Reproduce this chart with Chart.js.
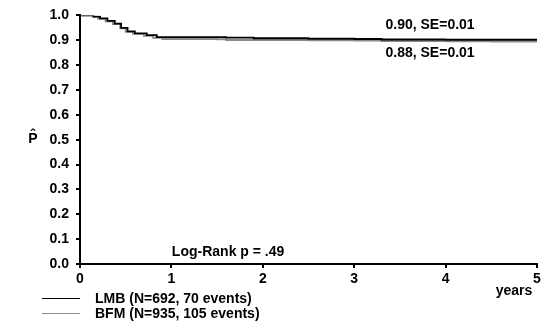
<!DOCTYPE html>
<html>
<head>
<meta charset="utf-8">
<script src="https://cdn.jsdelivr.net/npm/chart.js@4"></script>
<style>
  html, body { margin: 0; padding: 0; background: #fff; }
  #wrap { width: 546px; height: 331px; }
</style>
</head>
<body>
<div id="wrap"><canvas id="km"></canvas></div>
<script>
// Kaplan-Meier curves
var lmbYears = [0, 0.1, 0.15, 0.22, 0.3, 0.38, 0.45, 0.52, 0.6, 0.73, 0.84, 1.6, 1.9, 2.5, 3.0, 3.3, 4.0, 5.0];
var lmbSurv  = [1, 1, 0.995, 0.988, 0.978, 0.967, 0.95, 0.936, 0.928, 0.921, 0.913, 0.911, 0.908, 0.906, 0.905, 0.903, 0.902, 0.902];
var bfmYears = [0, 0.08, 0.14, 0.2, 0.28, 0.36, 0.44, 0.5, 0.58, 0.7, 0.8, 0.9, 1.5, 1.6, 2.5, 3.0, 3.3, 4.0, 4.5, 5.0];
var bfmSurv  = [1, 1, 0.994, 0.986, 0.976, 0.965, 0.948, 0.934, 0.926, 0.918, 0.91, 0.905, 0.904, 0.901, 0.9, 0.899, 0.897, 0.896, 0.895, 0.895];

var xTicks = [0, 1, 2, 3, 4, 5];
var yTicks = [0, 0.1, 0.2, 0.3, 0.4, 0.5, 0.6, 0.7, 0.8, 0.9, 1.0];
var legendLabels = ['LMB (N=692, 70 events)', 'BFM (N=935, 105 events)'];
var lineColors = ['#000000', '#8a8a8a'];

function toPoints(xs, ys) {
  return xs.map(function(x, i) { return { x: x, y: ys[i] }; });
}

var FONT = '"Liberation Sans", Arial, sans-serif';

// Extra text: estimates, log-rank, axis labels and the legend under the axis
var textPlugin = {
  id: 'kmText',
  afterDraw: function(chart) {
    var ctx = chart.ctx;
    var xs = chart.scales.x;
    ctx.save();
    ctx.fillStyle = '#000';
    ctx.font = 'bold 14px ' + FONT;
    ctx.textAlign = 'center';
    ctx.textBaseline = 'middle';
    ctx.fillText('0.90, SE=0.01', xs.getPixelForValue(3.83), 25);
    ctx.fillText('0.88, SE=0.01', xs.getPixelForValue(3.83), 53);
    ctx.fillText('Log-Rank p = .49', xs.getPixelForValue(1.62), 252);
    ctx.fillText('years', 514, 291);
    ctx.fillText('P\u0302', 33, 139);

    // legend
    ctx.textAlign = 'left';
    legendLabels.forEach(function(lbl, i) {
      var y = 298 + i * 15;
      ctx.strokeStyle = lineColors[i];
      ctx.lineWidth = 1;
      ctx.beginPath();
      ctx.moveTo(42, y + 0.5);
      ctx.lineTo(80, y + 0.5);
      ctx.stroke();
      ctx.fillText(lbl, 95, y + 1);
    });
    ctx.restore();
  }
};

new Chart(document.getElementById('km').getContext('2d'), {
  type: 'line',
  data: {
    datasets: [
      {
        label: legendLabels[0],
        data: toPoints(lmbYears, lmbSurv),
        borderColor: lineColors[0],
        borderWidth: 1.8,
        pointRadius: 0,
        stepped: true,
        fill: false
      },
      {
        label: legendLabels[1],
        data: toPoints(bfmYears, bfmSurv),
        borderColor: lineColors[1],
        borderWidth: 1.8,
        pointRadius: 0,
        stepped: true,
        fill: false
      }
    ]
  },
  options: {
    responsive: true,
    maintainAspectRatio: false,
    animation: false,
    layout: { padding: { top: 10, right: 9, bottom: 42, left: 0 } },
    plugins: {
      legend: { display: false },
      tooltip: { enabled: false }
    },
    scales: {
      x: {
        type: 'linear',
        min: 0,
        max: 5,
        afterBuildTicks: function(axis) {
          axis.ticks = xTicks.map(function(v) { return { value: v }; });
        },
        afterFit: function(axis) { axis.height = 25; },
        grid: { drawOnChartArea: false, drawTicks: true, tickLength: 4, color: '#000', lineWidth: 2 },
        border: { color: '#000', width: 2 },
        ticks: {
          color: '#000',
          padding: 3,
          font: { family: FONT, size: 14, weight: 'bold' },
          maxRotation: 0
        }
      },
      y: {
        type: 'linear',
        min: 0,
        max: 1,
        afterBuildTicks: function(axis) {
          axis.ticks = yTicks.map(function(v) { return { value: v }; });
        },
        afterFit: function(axis) { axis.width = 80; },
        grid: { drawOnChartArea: false, drawTicks: true, tickLength: 4, color: '#000', lineWidth: 2 },
        border: { color: '#000', width: 2 },
        ticks: {
          color: '#000',
          padding: 7,
          font: { family: FONT, size: 14, weight: 'bold' },
          callback: function(v) { return v.toFixed(1); }
        }
      }
    }
  },
  plugins: [textPlugin]
});
</script>
</body>
</html>
